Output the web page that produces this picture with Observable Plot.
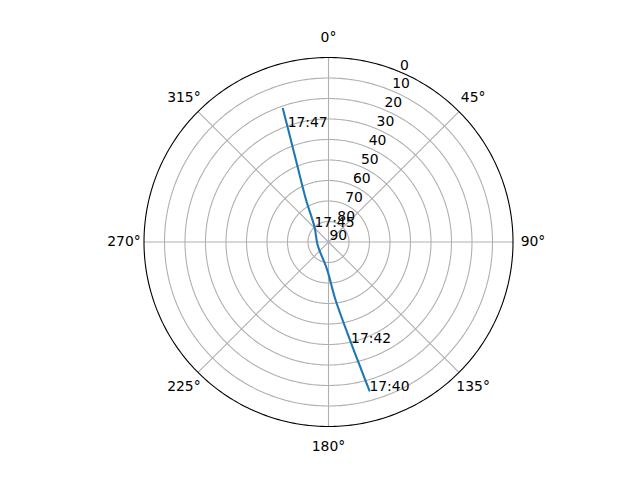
<!DOCTYPE html>
<html><head><meta charset="utf-8">
<script src="https://cdn.jsdelivr.net/npm/d3@7"></script>
<script src="https://cdn.jsdelivr.net/npm/@observablehq/plot@0.6"></script>
<style>body{margin:0;background:#fff;} svg{display:block}</style>
</head><body><div id="chart"></div>
<script>
// Satellite pass track: azimuth (deg, clockwise from north) and elevation (deg)
const trackAz   = [164.6, 165.6, 167.4, 173.1, 182.7, 255.7, 317.0, 331.9, 338.3, 340.4, 341.1];
const trackEl   = [14.8,  25.7,  39.6,  61.6,  76.4,  84.5,  80.0,  66.8,  47.1,  30.6,  21.3];
const trackTime = ["17:40", "", "17:42", "", "", "", "17:45", "", "", "17:47", ""];

const ringEl = [10, 20, 30, 40, 50, 60, 70, 80];
const spokeAz = [0, 45, 90, 135, 180, 225, 270, 315];
const spokeLabels = ["0°", "45°", "90°", "135°", "180°", "225°", "270°", "315°"];
const radialTicks = [0, 10, 20, 30, 40, 50, 60, 70, 80, 90];
const radialLabelAz = 22.5;

const track = trackAz.map((az, i) => ({az, el: trackEl[i], time: trackTime[i]}));
const spokes = spokeAz.map((az, i) => ({az, label: spokeLabels[i]}));
const lon = az => -az;
const circle = r => d3.geoCircle().center([0, 90]).radius(r).precision(1)();
const FS = 13.9;

const chart = Plot.plot({
  width: 640, height: 480,
  marginTop: 57, marginBottom: 54, marginLeft: 143.5, marginRight: 127.5,
  style: {fontFamily: "DejaVu Sans", fontSize: FS + "px", background: "white", color: "black"},
  projection: {type: "azimuthal-equidistant", rotate: [180, -90], domain: circle(90), clip: false},
  marks: [
    Plot.geo(ringEl, {geometry: d => circle(90 - d), stroke: "#b0b0b0", strokeWidth: 1.1, fill: "none"}),
    Plot.link(spokes, {x1: d => lon(d.az), y1: 90, x2: d => lon(d.az), y2: 0, stroke: "#b0b0b0", strokeWidth: 1.1}),
    Plot.geo([0], {geometry: () => circle(90), stroke: "black", strokeWidth: 1.1, fill: "none"}),
    Plot.line(track, {x: d => lon(d.az), y: "el", stroke: "#1f77b4", strokeWidth: 2.1, curve: "catmull-rom"}),
    Plot.text(track.filter(d => d.time), {x: d => lon(d.az), y: "el", text: "time", textAnchor: "start", lineAnchor: "bottom", fontSize: FS, fill: "black"}),
    Plot.text(radialTicks, {x: lon(radialLabelAz), y: d => d, text: d => String(d), textAnchor: "start", lineAnchor: "bottom", dx: 1, dy: -2, fontSize: FS, fill: "black"}),
    Plot.text(spokes, {x: d => lon(d.az), y: -9.76, text: "label", textAnchor: "middle", lineAnchor: "middle", fontSize: FS, fill: "black"})
  ]
});
document.getElementById("chart").appendChild(chart);
</script>
</body></html>
